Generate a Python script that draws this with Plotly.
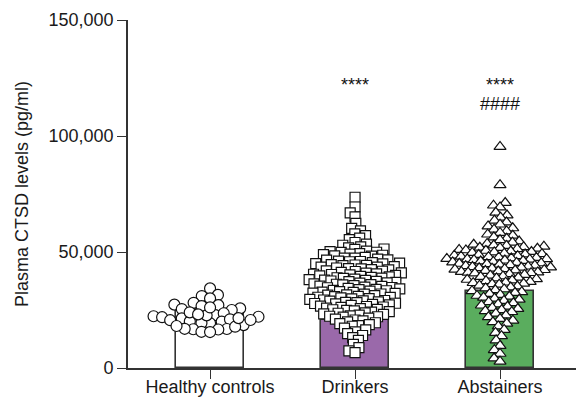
import math
import plotly.graph_objects as go

# ---- data -------------------------------------------------------------
groups = ["Healthy controls", "Drinkers", "Abstainers"]
bar_levels = [25400, 20700, 33200]

healthy = [34300, 31000, 31500, 30000, 27100, 28100, 26700, 27300, 25700, 25000,
           25400, 22800, 23600, 20000, 21400, 19300, 22100, 22300, 21900, 19400,
           18500, 20700, 21000, 22700, 20600, 20100, 16700, 15600, 16900, 16800,
           17800, 16600, 15500, 24000, 23100, 18100, 21500, 26100]

drinkers = [73600,
            69400, 66900, 65100,
            62300, 60200, 59100, 57800,
            57100, 56000, 55300, 54100, 53400,
            52900, 52200, 51800, 51300, 51100, 50400, 50200, 49900, 49800, 49300, 49100, 48900,
            48600, 48300, 48200, 47700, 47400, 47400, 46900, 46600, 46500, 46100, 45900, 45800,
            45400, 45200, 45000, 44900, 44600, 44400,
            44200, 44100, 43700, 43500, 43500, 43100, 42800, 42700, 42400, 42300, 41900, 41700,
            41600, 41200, 41000, 40900, 40600, 40400, 40300, 40100, 39900, 39700, 39500, 39300, 39100,
            38900, 38700, 38600, 38300, 38100, 37900, 37800, 37500, 37300, 37200, 36900, 36700,
            36600, 36300, 36100, 35900, 35800, 35500, 35300, 35200, 34900, 34700, 34600, 34300,
            34100, 33900, 33800, 33500, 33300, 33100,
            32900, 32700, 32600, 32300, 32200, 31900, 31800, 31500, 31400, 31200, 30900, 30800,
            30500, 30400, 30200, 29900, 29800, 29600, 29300, 29100, 28900, 28800, 28500, 28300,
            28200, 27900, 27800, 27600, 27400, 27200,
            27000, 26700, 26500, 26300, 26100, 25800, 25600, 25300, 25100, 24800, 24600, 24300,
            24100, 23800, 23600, 23300, 23100, 22800, 22500, 22300, 22100, 21900,
            21500, 21100, 20700, 20300, 19900, 19500, 19100, 18700, 18300, 18000,
            17200, 16400, 15600, 14800, 14000,
            13100, 11900, 10200, 8800, 7400, 6600]

abstainers = [95400,
              78900,
              71200, 70100, 69300,
              67000, 65800, 64900, 63600, 62800, 61900, 61100, 60300,
              59700, 59000, 58300, 57600, 57100, 56400, 55800, 55200, 54600, 54100, 53600, 53200,
              52900, 52700, 52400, 52200, 51900, 51800, 51500, 51300, 51000, 50800, 50600, 50300,
              50100, 49900, 49700, 49400, 49200, 49000, 48800, 48500, 48300, 48100, 47900, 47700,
              47500, 47300, 47100, 47000, 46900, 46800,
              46600, 46400, 46200, 46000, 45800, 45600, 45400, 45200, 45000, 44800, 44600, 44400,
              44200, 44000, 43800, 43600, 43400, 43300, 43100, 42900, 42700, 42500, 42300, 42100,
              41900, 41700, 41500, 41300, 41200, 41000,
              40800, 40500, 40200, 39900, 39600, 39300, 39000, 38700, 38400, 38100, 37800, 37500,
              37200, 36900, 36700, 36400, 36200, 36000,
              35600, 35200, 34800, 34400, 34000, 33600, 33200, 32800, 32400, 32000, 31600, 31200,
              30800, 30400, 30000,
              29500, 29000, 28500, 28000, 27500, 27000, 26500, 26000, 25500, 25000, 24600, 24200,
              23500, 22700, 22000, 21200, 20500, 19800, 19200,
              18000, 16500, 15200, 13800,
              12000, 9600,
              7800, 6200, 4200, 2800]

y_ticks = [0, 50000, 100000, 150000]
y_max = 150000

# ---- layout geometry (pixels) -----------------------------------------
W, H = 576, 397
M_L, M_R, M_T, M_B = 128, 0, 20, 29
plot_h = H - M_T - M_B
plot_w = W - M_L - M_R
x_lo, x_hi = -0.566, 2.524
px_per_val = plot_h / y_max
px_per_unit = plot_w / (x_hi - x_lo)


def swarm_offsets(values, min_dist):
    """Beeswarm placement: each point takes the free x-slot nearest the centre."""
    ys = [v * px_per_val for v in values]
    order = sorted(range(len(values)), key=lambda i: ys[i])
    placed = []
    xs = [0.0] * len(values)
    d2 = min_dist * min_dist
    for i in order:
        y = ys[i]
        near = [(xp, yp) for xp, yp in placed if abs(yp - y) < min_dist]
        cands = [0.0]
        for xp, yp in near:
            dx = math.sqrt(d2 - (yp - y) ** 2)
            cands += [xp + dx, xp - dx]
        cands.sort(key=lambda c: (abs(c), c))
        chosen = cands[-1]
        for c in cands:
            if all((c - xp) ** 2 + (y - yp) ** 2 >= d2 - 1e-6 for xp, yp in near):
                chosen = c
                break
        xs[i] = chosen / px_per_unit
        placed.append((chosen, y))
    return xs


fig = go.Figure()

bar_fill = ["#ffffff", "#9a69aa", "#5aad5e"]
fig.add_trace(go.Bar(
    x=[0, 1, 2], y=bar_levels, width=0.47,
    marker=dict(color=bar_fill, line=dict(color="#333333", width=1.6)),
    showlegend=False, hoverinfo="skip",
))

series = [(healthy, "circle", 11, 8.6),
          (drinkers, "square", 10, 6.4),
          (abstainers, "triangle-up", 10.5, 6.8)]
for gi, (vals, sym, size, dist) in enumerate(series):
    offs = swarm_offsets(vals, dist)
    fig.add_trace(go.Scatter(
        x=[gi + o for o in offs], y=vals, mode="markers",
        marker=dict(symbol=sym, size=size, color="#ffffff",
                    line=dict(color="#111111", width=1.2)),
        showlegend=False, hoverinfo="skip",
    ))

font = "Arial, 'Liberation Sans', sans-serif"
for x, y, txt in [(1, 121800, "****"), (2, 121800, "****"), (2, 114000, "####")]:
    fig.add_annotation(x=x, y=y, text=txt, showarrow=False,
                       font=dict(family=font, size=18, color="#111111"))

fig.update_layout(
    width=W, height=H,
    margin=dict(l=M_L, r=M_R, t=M_T, b=M_B, pad=0),
    paper_bgcolor="white", plot_bgcolor="white",
    font=dict(family=font, size=18, color="#1a1a1a"),
    bargap=0,
)
fig.update_xaxes(
    range=[x_lo, x_hi], tickvals=[0, 1, 2], ticktext=groups,
    showline=True, linecolor="#333333", linewidth=1.6,
    ticks="outside", ticklen=9, tickwidth=1.4, tickcolor="#333333",
    ticklabelstandoff=-7,
    showgrid=False, zeroline=False, fixedrange=True, automargin=False,
)
fig.update_yaxes(
    range=[0, y_max], tickvals=y_ticks, tickformat=",",
    showline=True, linecolor="#333333", linewidth=1.6,
    ticks="outside", ticklen=9, tickwidth=1.4, tickcolor="#333333",
    showgrid=False, zeroline=False, automargin=False,
    title=dict(text="Plasma CTSD levels (pg/ml)", font=dict(size=18), standoff=15),
)

fig.write_html("out.html")
